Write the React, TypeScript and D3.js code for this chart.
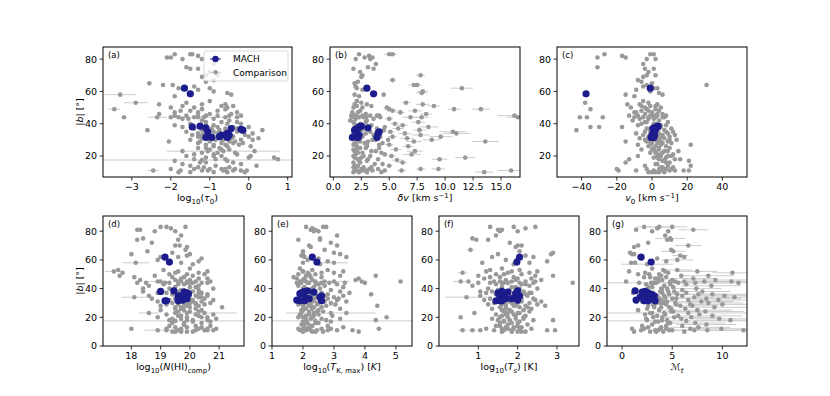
import * as d3 from "d3";
import type { ReactNode } from "react";

const W = 830;
const H = 396;
const FONT = "DejaVu Sans, sans-serif";

// |b| of the comparison components (shared by every panel)
const compB = [
  83, 83, 83, 82, 81, 81, 80, 80, 77, 75,
  74, 74, 72, 70, 70, 69, 67, 66, 65, 64,
  64, 63, 62, 62, 61, 60, 59, 58, 58, 57,
  54, 53, 53, 52, 52, 51, 51, 51, 50, 50,
  49, 49, 49, 48, 48, 47, 47, 46, 46, 45,
  45, 45, 45, 45, 44, 44, 44, 44, 44, 44,
  44, 43, 43, 42, 42, 41, 41, 40, 40, 39,
  39, 38, 38, 38, 37, 37, 37, 36, 36, 36,
  35, 35, 35, 34, 34, 34, 33, 33, 33, 32,
  32, 32, 31, 31, 31, 30, 30, 30, 29, 29,
  29, 28, 28, 28, 27, 27, 26, 26, 25, 25,
  24, 24, 23, 23, 23, 22, 22, 21, 21, 20,
  20, 20, 19, 19, 18, 18, 18, 17.5, 17, 16,
  16, 15, 14, 14, 13, 13, 12, 12, 12, 12,
  11, 11, 11, 11, 11, 11, 10, 10, 10, 10,
  48, 46, 45, 44, 43, 41, 40, 38, 37, 36,
  35, 34, 33, 32, 31, 30, 29, 28, 27, 26,
  25, 24, 23, 22, 21, 20, 19, 18, 17, 16,
  15, 14, 13, 12, 11, 11, 10, 12, 27, 30,
  52, 50, 47, 45, 44, 39, 35, 33, 31, 29,
];

const compTau0 = [
  -1.9, -1.5, -1.45, -1.3, -2.1, -2.0, -1.2, -1.7, -0.9, -1.6,
  -1.5, -1.3, -1.0, -0.8, -1.1, -1.2, -0.9, -1.1, -2.55, -2.2,
  -1.95, -1.4, -1.8, -1.0, -1.3, -0.9, -0.55, -3.3, -0.45, -1.9,
  -1.0, -2.9, -1.6, -0.6, -2.3, -0.7, -1.7, -0.4, -1.4, -2.0,
  -3.45, -1.2, -0.6, -0.8, -1.5, -0.3, -1.9, -2.3, -1.0, -1.6,
  -1.1, -0.5, -1.3, -0.2, -3.2, -2.35, -1.8, -1.3, -0.6, -1.4,
  -0.3, -1.7, -0.9, -1.2, -0.5, -0.3, -0.7, -1.5, -0.2, -0.9,
  -1.9, -0.8, -0.4, 0.0, -1.4, -0.6, -0.3, -2.6, -1.2, 0.35,
  -0.9, -0.3, -1.6, -0.8, -1.3, 0.1, -1.0, -0.6, -0.1, -1.3,
  -0.4, 0.0, -0.7, -1.2, 0.25, -1.5, -0.85, -0.2, -1.0, -0.5,
  -2.05, -1.3, -0.7, -0.4, -1.1, -0.6, -0.9, 0.05, -1.3, -0.75,
  -1.0, -0.5, -1.7, -0.65, 0.15, -1.2, -0.8, -0.9, -0.3, -1.6,
  -0.7, 0.05, 0.0, 0.65, -1.4, -0.6, 0.75, -1.2, -1.9, -0.4,
  -1.1, -0.2, -1.5, -0.85, -0.5, -1.3, -2.0, -0.7, -0.35, -1.0,
  -2.45, -1.75, -1.2, -0.65, -0.4, -0.2, -1.5, -0.9, -0.1, -1.8,
  -1.75, -0.45, -0.8, -1.15, -1.55, -1.1, -0.55, -1.7, -0.95, -0.75,
  -1.15, -0.6, -1.45, -0.9, -0.45, -0.65, -1.25, -0.15, -0.9, -0.55,
  -1.1, -0.7, -1.05, -0.35, -1.4, -0.9, -1.1, -0.85, -0.55, -1.25,
  -1.7, 0.2, -1.15, -0.6, -1.05, -0.05, -0.55, -1.4, -0.25, 0.1,
  -1.2, -0.55, -1.3, -1.9, -2.0, -1.1, -0.6, -1.2, -0.9, -0.35,
];

const compDv = [
  2.3, 5.0, 5.3, 3.2, 2.8, 3.5, 2.0, 3.3, 3.8, 3.1,
  3.6, 1.8, 2.4, 7.8, 2.6, 2.5, 5.3, 2.2, 1.9, 7.2,
  7.5, 2.0, 11.5, 2.1, 2.6, 8.0, 7.9, 1.9, 4.5, 2.3,
  2.1, 2.5, 6.5, 3.0, 8.0, 9.0, 3.4, 2.1, 2.6, 1.8,
  10.8, 13.2, 5.0, 5.3, 7.3, 6.0, 2.2, 2.9, 8.3, 16.2,
  1.6, 2.0, 2.6, 3.3, 1.7, 2.3, 4.2, 6.9, 7.9, 16.5,
  2.9, 2.0, 5.0, 1.5, 3.0, 1.8, 7.6, 2.4, 5.5, 6.2,
  3.4, 1.9, 4.6, 8.5, 2.7, 5.8, 3.9, 2.5, 7.7, 4.5,
  2.2, 5.1, 10.7, 2.9, 6.4, 11.0, 2.0, 7.8, 3.6, 5.3,
  2.6, 9.6, 1.9, 3.7, 6.6, 2.3, 4.9, 8.8, 13.6, 3.1,
  7.2, 2.0, 4.4, 2.8, 1.8, 5.0, 3.0, 6.7, 2.4, 4.1,
  2.1, 5.6, 1.9, 3.8, 7.3, 2.6, 4.3, 7.0, 2.0, 3.3,
  1.8, 5.2, 2.5, 11.8, 9.5, 2.2, 4.0, 5.7, 3.0, 6.2,
  2.4, 4.4, 1.9, 5.0, 2.7, 3.4, 2.0, 7.8, 4.0, 9.4,
  2.1, 2.6, 3.5, 4.6, 6.1, 15.9, 2.3, 3.0, 13.5, 1.8,
  2.4, 1.7, 3.9, 2.7, 3.6, 2.9, 1.9, 3.2, 2.3, 2.0,
  3.3, 1.8, 2.6, 4.2, 2.2, 3.5, 2.4, 1.9, 3.0, 2.1,
  2.9, 1.8, 3.4, 2.2, 4.6, 2.7, 1.9, 3.1, 2.3, 1.8,
  3.7, 2.2, 1.8, 3.2, 1.9, 2.9, 4.3, 2.5, 4.1, 3.8,
  1.9, 4.8, 1.7, 4.1, 2.9, 2.6, 3.9, 1.8, 2.4, 2.1,
];

const compV0 = [
  -27, -1, 1, -17, -31, -15, 2, -3, -5, -31,
  -4, 1, -2, -3, 2, -5, -8, -6, 0, 31,
  -3, -5, 3, 1, -9, -1, 4, -15, 6, -10,
  -5, -38, -2, -7, 3, -6, -1, 2, -12, 5,
  -35, -3, 2, -6, 4, -9, 0, -4, 6, -13,
  -8, -1, 3, 8, -41, -37, -28, -10, -5, 2,
  7, -7, -2, -11, 4, -3, 9, -6, 1, 5,
  -8, -35, -30, -17, -3, 4, 11, -43, 7, 1,
  -4, 8, 12, -9, 3, 9, -5, 6, 13, -2,
  5, 10, -7, 2, 7, -4, 3, 14, -15, 9,
  -3, 6, 0, 11, -8, 5, -2, 8, 1, 10,
  -6, 4, 2, 9, 15, -1, 6, 3, 12, -8,
  5, 11, 1, 8, -13, 4, 16, 7, 21, -15,
  10, 3, -4, 22, 6, 12, -20, -3, 8, 4,
  -19, -9, 1, 6, 10, 18, -2, 2, 7, 4,
  -2, 3, 0, 6, 1, -4, 2, 5, -1, 3,
  1, 4, 2, 0, -2, 1, 5, 3, -1, 2,
  4, 0, 7, 2, 5, 9, 3, 13, 6, 8,
  2, 9, 5, 11, 13, 21, 0, 6, 22, 10,
  -14, -4, -10, 2, -2, 8, -1, 1, 4, -1,
];

const compNHI = [
  19.0, 19.2, 19.85, 19.35, 18.2, 18.3, 19.5, 18.8, 19.7, 18.4,
  18.2, 19.6, 18.7, 19.5, 19.65, 19.9, 19.85, 18.55, 19.4, 18.0,
  20.0, 19.9, 19.0, 19.6, 20.4, 18.9, 20.3, 18.15, 19.7, 20.1,
  20.0, 19.1, 17.55, 20.6, 17.4, 17.7, 19.5, 20.3, 19.3, 20.5,
  17.6, 18.8, 20.1, 19.4, 18.1, 20.6, 19.7, 18.3, 20.0, 19.0,
  18.9, 19.6, 20.2, 20.7, 18.5, 19.3, 19.9, 20.4, 18.2, 19.15,
  20.6, 19.1, 19.8, 18.6, 20.3, 19.5, 20.0, 18.4, 20.8, 19.7,
  20.3, 18.4, 19.6, 20.1, 19.2, 20.4, 18.9, 19.7, 20.6, 19.4,
  18.6, 20.2, 20.6, 18.1, 19.8, 20.4, 18.7, 19.9, 20.5, 19.3,
  20.1, 20.8, 19.6, 18.9, 20.4, 19.4, 20.0, 20.7, 19.2, 19.9,
  20.5, 19.0, 19.8, 20.3, 19.5, 21.1, 19.7, 20.2, 19.0, 20.4,
  19.6, 20.3, 18.6, 20.5, 19.9, 19.2, 20.8, 19.7, 20.3, 18.9,
  19.9, 20.6, 19.4, 20.9, 19.3, 20.1, 20.6, 19.5, 20.7, 19.8,
  20.4, 19.8, 19.3, 20.7, 19.9, 20.4, 18.0, 19.7, 20.6, 20.9,
  18.9, 19.2, 19.6, 20.2, 20.5, 20.8, 19.4, 19.9, 20.1, 19.7,
  19.8, 19.5, 19.9, 20.1, 19.6, 20.2, 19.3, 19.9, 20.3, 19.6,
  19.9, 20.3, 19.5, 20.0, 19.7, 20.2, 19.6, 19.9, 20.0, 19.5,
  19.8, 20.0, 19.5, 20.2, 19.6, 20.4, 19.7, 19.9, 20.1, 19.4,
  19.8, 20.2, 19.5, 20.3, 19.7, 20.6, 19.5, 19.2, 19.7, 19.8,
  19.6, 19.9, 20.3, 19.7, 20.0, 19.8, 20.0, 19.6, 20.1, 20.2,
];

const compTK = [
  2.1, 2.75, 2.65, 2.3, 2.4, 2.25, 2.5, 2.35, 3.1, 2.55,
  1.85, 2.55, 2.9, 2.2, 3.1, 2.25, 2.7, 2.0, 3.0, 3.2,
  2.0, 1.95, 3.4, 2.05, 2.5, 2.15, 2.8, 3.0, 2.0, 2.55,
  1.9, 2.3, 2.8, 2.0, 3.3, 2.6, 2.15, 3.0, 1.85, 2.4,
  4.35, 3.2, 2.1, 1.7, 2.6, 2.05, 3.8, 2.3, 3.7, 5.15,
  1.9, 2.4, 3.0, 3.9, 4.0, 2.15, 2.6, 3.35, 1.95, 2.85,
  2.2, 2.5, 3.1, 1.85, 2.7, 2.35, 3.3, 2.0, 2.55, 2.9,
  2.15, 2.4, 3.2, 1.95, 2.6, 3.5, 2.05, 4.2, 2.3, 2.8,
  2.1, 2.7, 3.3, 2.25, 3.0, 2.45, 1.9, 2.8, 3.15, 2.35,
  2.0, 3.1, 2.3, 2.7, 3.4, 2.15, 2.9, 2.5, 1.85, 3.05,
  2.45, 2.2, 2.75, 4.4, 2.05, 2.6, 2.3, 3.2, 1.95, 2.5,
  2.2, 2.65, 2.35, 2.9, 3.4, 1.9, 2.5, 2.1, 2.95, 4.7,
  2.3, 2.0, 2.6, 3.2, 4.35, 2.1, 2.75, 2.4, 2.9, 2.15,
  2.5, 2.05, 2.3, 2.8, 2.2, 3.3, 2.0, 2.6, 2.9, 4.45,
  1.9, 2.1, 2.45, 2.8, 3.1, 3.6, 2.0, 2.3, 2.65, 3.8,
  2.25, 2.0, 2.7, 1.8, 2.45, 2.05, 2.3, 1.95, 2.2, 2.4,
  1.9, 2.3, 2.55, 2.1, 1.85, 2.45, 2.2, 2.0, 2.35, 2.1,
  2.0, 2.45, 1.95, 2.2, 2.35, 1.85, 2.25, 2.1, 2.0, 2.4,
  1.95, 2.25, 2.05, 2.15, 2.25, 2.0, 2.4, 1.85, 2.3, 2.0,
  2.0, 2.2, 1.8, 2.1, 2.4, 2.3, 2.2, 2.05, 1.95, 2.25,
];

const compTs = [
  1.3, 1.9, 2.45, 2.2, 1.5, 1.6, 2.0, 1.55, 1.45, 0.85,
  1.25, 0.95, 1.8, 2.0, 2.1, 1.95, 0.8, 2.05, 2.9, 2.85,
  1.5, 2.2, 2.4, 1.35, 2.0, 1.7, 2.75, 1.1, 2.3, 1.9,
  1.6, 1.3, 2.05, 2.5, 1.2, 0.6, 1.75, 2.3, 1.45, 2.1,
  2.9, 2.45, 1.0, 1.9, 1.55, 2.35, 1.15, 2.6, 1.7, 0.55,
  1.4, 1.85, 2.2, 0.75, 3.4, 2.05, 1.0, 1.6, 2.4, 1.3,
  1.75, 2.1, 1.45, 2.3, 0.85, 1.6, 1.95, 2.5, 1.25, 1.8,
  1.5, 2.15, 1.05, 1.35, 1.9, 2.35, 1.2, 1.7, 2.2, 1.45,
  1.05, 1.8, 2.25, 0.7, 1.55, 2.0, 1.3, 2.4, 1.75, 1.15,
  1.95, 2.45, 1.6, 2.1, 2.6, 1.4, 1.85, 2.3, 1.7, 2.5,
  1.25, 1.9, 2.2, 2.7, 1.55, 2.05, 1.35, 2.35, 1.8, 2.15,
  1.65, 2.3, 0.9, 1.75, 2.0, 1.45, 1.9, 1.6, 2.2, 0.55,
  1.75, 2.15, 1.35, 1.95, 1.5, 2.4, 2.9, 1.65, 2.05, 1.55,
  1.85, 2.25, 1.45, 2.0, 1.7, 2.1, 1.2, 1.6, 1.9, 2.35,
  0.6, 0.85, 1.05, 1.4, 2.75, 2.95, 1.6, 2.0, 2.2, 1.85,
  1.3, 1.95, 2.45, 1.65, 2.2, 1.85, 2.05, 1.55, 2.3, 1.75,
  1.65, 1.9, 2.1, 1.5, 1.8, 2.0, 1.6, 1.95, 2.25, 1.7,
  1.6, 1.85, 2.05, 1.7, 1.95, 1.55, 2.15, 1.8, 1.65, 2.0,
  1.75, 1.55, 1.9, 2.05, 1.65, 1.85, 2.1, 1.75, 1.7, 1.6,
  1.85, 1.65, 2.0, 1.55, 1.75, 1.95, 1.5, 1.8, 1.65, 1.9,
];

const compMt = [
  2.2, 3.7, 5.0, 3.5, 1.4, 7.1, 3.0, 4.6, 4.3, 4.8,
  4.9, 4.5, 2.6, 1.6, 6.6, 1.2, 4.9, 5.1, 0.8, 1.0,
  1.2, 5.8, 1.7, 6.2, 3.5, 5.5, 4.4, 1.3, 0.9, 2.5,
  3.0, 4.1, 5.5, 0.7, 7.5, 2.3, 4.6, 11.0, 3.7, 1.6,
  8.6, 3.9, 5.9, 2.2, 4.4, 7.1, 3.3, 5.0, 9.3, 0.4,
  6.2, 3.6, 8.2, 10.9, 2.9, 4.8, 7.3, 1.7, 5.6, 11.6,
  3.1, 6.4, 2.4, 4.2, 8.9, 5.1, 3.0, 7.4, 4.5, 6.0,
  2.5, 5.2, 8.0, 3.8, 6.4, 4.0, 1.1, 7.6, 4.7, 9.0,
  3.5, 6.0, 10.2, 4.3, 7.2, 11.2, 2.7, 5.4, 8.4, 3.9,
  6.6, 9.6, 4.1, 7.9, 2.0, 5.3, 8.6, 3.4, 6.8, 10.0,
  4.4, 7.0, 2.6, 5.8, 9.2, 3.2, 6.3, 4.9, 1.6, 7.5,
  5.1, 8.3, 3.0, 6.6, 4.2, 7.7, 2.3, 5.6, 9.0, 4.0,
  6.9, 3.1, 5.9, 9.7, 2.5, 4.5, 10.8, 6.4, 3.6, 7.3,
  4.8, 8.4, 2.0, 6.0, 3.9, 7.6, 1.0, 4.4, 6.8, 9.9,
  1.9, 3.3, 5.0, 7.2, 8.5, 12.1, 1.2, 2.8, 4.1, 6.2,
  2.8, 4.0, 5.3, 3.4, 4.8, 2.6, 3.9, 4.6, 3.1, 5.5,
  4.2, 3.6, 5.0, 2.9, 4.5, 3.8, 5.4, 3.2, 4.7, 2.5,
  3.7, 4.9, 2.8, 4.3, 3.5, 5.2, 2.4, 4.0, 3.3, 4.6,
  3.0, 4.4, 2.6, 3.8, 3.6, 4.7, 3.4, 2.2, 3.9, 4.1,
  4.3, 2.7, 3.6, 4.8, 3.2, 4.0, 2.9, 3.7, 4.4, 3.1,
];

// horizontal error bars: [component index, half width]
const errTau0: [number, number][] = [
  [27, 0.4], [31, 0.3], [40, 0.15], [55, 0.25], [57, 0.7], [113, 1.45], [127, 5], [140, 0.15],
];
const errDv: [number, number][] = [
  [1, 0.5], [2, 0.4], [13, 0.4], [16, 0.3], [19, 0.5], [20, 0.4], [22, 1.0], [25, 0.5], [26, 0.5],
  [32, 0.4], [34, 0.6], [35, 0.5], [40, 0.6], [41, 0.8], [42, 0.5], [43, 0.5], [44, 0.6], [45, 0.4],
  [48, 0.5], [49, 1.5], [57, 0.7], [58, 0.7], [59, 1.0], [62, 0.4], [66, 0.6], [68, 0.4], [69, 0.5],
  [73, 0.9], [75, 0.5], [78, 0.6], [81, 0.4], [82, 1.2], [84, 0.6], [85, 1.2], [87, 0.8], [89, 0.4],
  [91, 1.0], [94, 0.6], [97, 0.8], [98, 1.2], [100, 0.7], [105, 0.4], [107, 0.5], [111, 0.5],
  [114, 0.7], [117, 0.8], [121, 0.4], [123, 0.9], [124, 0.7], [127, 0.5], [129, 0.4], [133, 0.3],
  [137, 0.4], [139, 0.6], [144, 0.4], [145, 1.2], [148, 0.8], [191, 0.3],
];
const errV0: [number, number][] = [];
const errNHI: [number, number][] = [
  [27, 0.45], [34, 0.3], [50, 0.4], [83, 0.45], [112, 0.35], [113, 1.1], [127, 3], [140, 0.45],
];
const errTK: [number, number][] = [
  [27, 0.45], [52, 0.5], [102, 0.3], [113, 1.45], [127, 5], [139, 0.1],
];
const errTs: [number, number][] = [
  [16, 0.1], [35, 0.12], [49, 0.2], [83, 0.55], [127, 0.15], [140, 0.1], [141, 0.1],
];
const errMt: [number, number][] = [
  [0, 0.8], [1, 1.2], [2, 1.5], [5, 1.5], [9, 1.5], [14, 1.3], [17, 1.2], [21, 0.8], [25, 1.6],
  [29, 2.6], [32, 1.5], [34, 2.0], [37, 2.0], [40, 2.5], [45, 2.3], [48, 3.0], [52, 2.5], [53, 2.0],
  [56, 3.2], [59, 1.5], [60, 7], [64, 3.0], [67, 2.5], [72, 2.8], [77, 3.0], [79, 3.4], [82, 2.8],
  [84, 3.5], [85, 1.8], [88, 3.5], [91, 3.0], [93, 3.2], [96, 3.5], [99, 3.0], [101, 2.6],
  [104, 3.6], [109, 3.5], [111, 3.8], [113, 8], [118, 3.0], [120, 2.9], [123, 2.8], [126, 3.5],
  [127, 8], [129, 3.0], [131, 3.0], [135, 3.2], [139, 2.6], [143, 3.4], [144, 3.5], [145, 1.5],
];

// MACH components
const machB = [62, 58.5, 38.5, 38, 37.5, 37, 36.5, 36, 35, 34, 33, 33, 32, 31.5, 31.5, 31.5];
const machTau0 = [-1.65, -1.5, -1.25, -1.45, -1.1, -0.45, -0.2, -0.15, -1.05, -0.55, -0.7, -0.5, -0.75, -1.1, -0.95, -0.55];
const machDv = [3.0, 3.6, 2.5, 2.3, 3.1, 2.2, 2.0, 1.9, 4.1, 4.0, 2.3, 2.1, 2.0, 1.7, 3.9, 2.2];
const machV0 = [-1, -37.5, 3.5, 2.5, 1, 0.5, 2, 1.5, 0.8, 1.2, 0, 1.5, 0.5, -0.5, 0.5, 1];
const machNHI = [19.15, 19.3, 19.45, 19.0, 19.8, 19.9, 19.95, 19.85, 19.6, 19.7, 19.6, 19.9, 19.75, 19.2, 19.15, 19.6];
const machTK = [2.3, 2.45, 2.15, 2.05, 2.35, 1.95, 1.9, 2.0, 2.6, 2.55, 2.1, 2.2, 1.8, 1.9, 2.6, 2.05];
const machTs = [2.05, 1.98, 2.0, 1.6, 1.75, 1.5, 1.95, 1.65, 2.05, 1.55, 1.7, 1.85, 2.0, 1.45, 1.6, 1.55];
const machMt = [1.9, 2.9, 1.3, 2.3, 2.0, 2.6, 2.2, 2.9, 3.2, 1.8, 2.5, 2.9, 1.4, 2.6, 3.3, 2.2];

const GRAY = "#999999";
const ERR = "#cccccc";
const BLUE = "#1c1c8c";

const minus = (d: number) => (d < 0 ? "\u2212" + Math.abs(d) : String(d));

interface PanelProps {
  id: string;
  box: [number, number, number, number];
  xDomain: [number, number];
  yDomain: [number, number];
  xTicks: number[];
  yTicks: number[];
  fmt: (d: number) => string;
  xs: number[];
  errs: [number, number][];
  machX: number[];
  tag: string;
  xLabel: ReactNode;
  yLabel?: boolean;
  legend?: boolean;
}

function Panel(p: PanelProps) {
  const [x0, x1, y0, y1] = p.box;
  const x = d3.scaleLinear().domain(p.xDomain).range([x0, x1]);
  const y = d3.scaleLinear().domain(p.yDomain).range([y1, y0]);
  const clip = `clip-${p.id}`;
  return (
    <g fontFamily={FONT}>
      <defs>
        <clipPath id={clip}>
          <rect x={x0} y={y0} width={x1 - x0} height={y1 - y0} />
        </clipPath>
      </defs>
      <g clipPath={`url(#${clip})`}>
        {p.errs.map(([i, e]) => (
          <line key={"e" + i} x1={x(p.xs[i] - e)} x2={x(p.xs[i] + e)} y1={y(compB[i])} y2={y(compB[i])}
            stroke={ERR} strokeWidth={1} />
        ))}
        {p.xs.map((v, i) => (
          <circle key={"c" + i} cx={x(v)} cy={y(compB[i])} r={2.3} fill={GRAY} />
        ))}
        {p.machX.map((v, i) => (
          <circle key={"m" + i} cx={x(v)} cy={y(machB[i])} r={3.6} fill={BLUE} />
        ))}
      </g>
      <rect x={x0} y={y0} width={x1 - x0} height={y1 - y0} fill="none" stroke="#000" strokeWidth={1} />
      {p.xTicks.map((t) => (
        <g key={"xt" + t}>
          <line x1={x(t)} x2={x(t)} y1={y1} y2={y1 + 3.5} stroke="#000" strokeWidth={0.8} />
          <text x={x(t)} y={y1 + 12.5} fontSize={9.5} textAnchor="middle">{p.fmt(t)}</text>
        </g>
      ))}
      {p.yTicks.map((t) => (
        <g key={"yt" + t}>
          <line x1={x0 - 3.5} x2={x0} y1={y(t)} y2={y(t)} stroke="#000" strokeWidth={0.8} />
          <text x={x0 - 6} y={y(t) + 3.4} fontSize={9.5} textAnchor="end">{t}</text>
        </g>
      ))}
      <text x={x0 + 5} y={y0 + 11} fontSize={8.5}>{p.tag}</text>
      <text x={(x0 + x1) / 2} y={y1 + 24} fontSize={9.5} textAnchor="middle">{p.xLabel}</text>
      {p.yLabel && (
        <text transform={`translate(${x0 - 20},${(y0 + y1) / 2}) rotate(-90)`} fontSize={9.5} textAnchor="middle">
          |<tspan fontStyle="italic">b</tspan>| [°]
        </text>
      )}
      {p.legend && (
        <g>
          <rect x={204} y={51} width={84} height={30} rx={2} fill="#fff" fillOpacity={0.8} stroke="#d0d0d0" strokeWidth={0.8} />
          <line x1={210} x2={221} y1={59} y2={59} stroke={BLUE} strokeWidth={1} />
          <circle cx={215.5} cy={59} r={3.2} fill={BLUE} />
          <text x={233} y={62.3} fontSize={9}>MACH</text>
          <line x1={210} x2={221} y1={72.3} y2={72.3} stroke={ERR} strokeWidth={1} />
          <circle cx={215.5} cy={72.3} r={2.3} fill={GRAY} />
          <text x={233} y={75.6} fontSize={9}>Comparison</text>
        </g>
      )}
    </g>
  );
}

const TOP: [number, number] = [47, 177];
const BOT: [number, number] = [216, 346];
const topY: [number, number] = [7, 87.5];
const botY: [number, number] = [0, 90.6];

const kms = (
  <>
    {" [km s"}<tspan dy={-3.5} fontSize={7}>−1</tspan><tspan dy={3.5}>]</tspan>
  </>
);

export default function App() {
  return (
    <svg width={W} height={H} viewBox={`0 0 ${W} ${H}`}
      style={{ position: "absolute", left: 0, top: 0, background: "#fff" }}>
      <Panel id="a" box={[103, 292, ...TOP]} xDomain={[-3.74, 1.11]} yDomain={topY}
        xTicks={[-3, -2, -1, 0, 1]} yTicks={[20, 40, 60, 80]} fmt={minus}
        xs={compTau0} errs={errTau0} machX={machTau0} tag="(a)" yLabel legend
        xLabel={<>log<tspan dy={2.5} fontSize={7}>10</tspan><tspan dy={-2.5}>(</tspan><tspan fontStyle="italic">τ</tspan><tspan dy={2.5} fontSize={7}>0</tspan><tspan dy={-2.5}>)</tspan></>} />
      <Panel id="b" box={[330, 520, ...TOP]} xDomain={[-0.3, 16.7]} yDomain={topY}
        xTicks={[0, 2.5, 5, 7.5, 10, 12.5, 15]} yTicks={[20, 40, 60, 80]} fmt={(d) => d.toFixed(1)}
        xs={compDv} errs={errDv} machX={machDv} tag="(b)"
        xLabel={<><tspan fontStyle="italic">δv</tspan>{kms}</>} />
      <Panel id="c" box={[557, 747, ...TOP]} xDomain={[-54, 54]} yDomain={topY}
        xTicks={[-40, -20, 0, 20, 40]} yTicks={[20, 40, 60, 80]} fmt={minus}
        xs={compV0} errs={errV0} machX={machV0} tag="(c)"
        xLabel={<><tspan fontStyle="italic">v</tspan><tspan dy={2.5} fontSize={7}>0</tspan><tspan dy={-2.5}>{" [km s"}</tspan><tspan dy={-3.5} fontSize={7}>−1</tspan><tspan dy={3.5}>]</tspan></>} />
      <Panel id="d" box={[103, 244, ...BOT]} xDomain={[17.03, 21.85]} yDomain={botY}
        xTicks={[18, 19, 20, 21]} yTicks={[0, 20, 40, 60, 80]} fmt={minus}
        xs={compNHI} errs={errNHI} machX={machNHI} tag="(d)" yLabel
        xLabel={<>log<tspan dy={2.5} fontSize={7}>10</tspan><tspan dy={-2.5}>(</tspan><tspan fontStyle="italic">N</tspan>(HI)<tspan dy={2.5} fontSize={7}>comp</tspan><tspan dy={-2.5}>)</tspan></>} />
      <Panel id="e" box={[272, 412, ...BOT]} xDomain={[1, 5.52]} yDomain={botY}
        xTicks={[1, 2, 3, 4, 5]} yTicks={[0, 20, 40, 60, 80]} fmt={minus}
        xs={compTK} errs={errTK} machX={machTK} tag="(e)"
        xLabel={<>log<tspan dy={2.5} fontSize={7}>10</tspan><tspan dy={-2.5}>(</tspan><tspan fontStyle="italic">T</tspan><tspan dy={2.5} fontSize={7}>K, max</tspan><tspan dy={-2.5}>) [</tspan><tspan fontStyle="italic">K</tspan>]</>} />
      <Panel id="f" box={[439, 579, ...BOT]} xDomain={[0, 3.56]} yDomain={botY}
        xTicks={[1, 2, 3]} yTicks={[0, 20, 40, 60, 80]} fmt={minus}
        xs={compTs} errs={errTs} machX={machTs} tag="(f)"
        xLabel={<>log<tspan dy={2.5} fontSize={7}>10</tspan><tspan dy={-2.5}>(</tspan><tspan fontStyle="italic">T</tspan><tspan dy={2.5} fontSize={7} fontStyle="italic">s</tspan><tspan dy={-2.5}>) [K]</tspan></>} />
      <Panel id="g" box={[607, 747, ...BOT]} xDomain={[-1.5, 12.45]} yDomain={botY}
        xTicks={[0, 5, 10]} yTicks={[0, 20, 40, 60, 80]} fmt={minus}
        xs={compMt} errs={errMt} machX={machMt} tag="(g)"
        xLabel={<><tspan fontStyle="italic">ℳ</tspan><tspan dy={2.5} fontSize={7} fontStyle="italic">t</tspan></>} />
    </svg>
  );
}
